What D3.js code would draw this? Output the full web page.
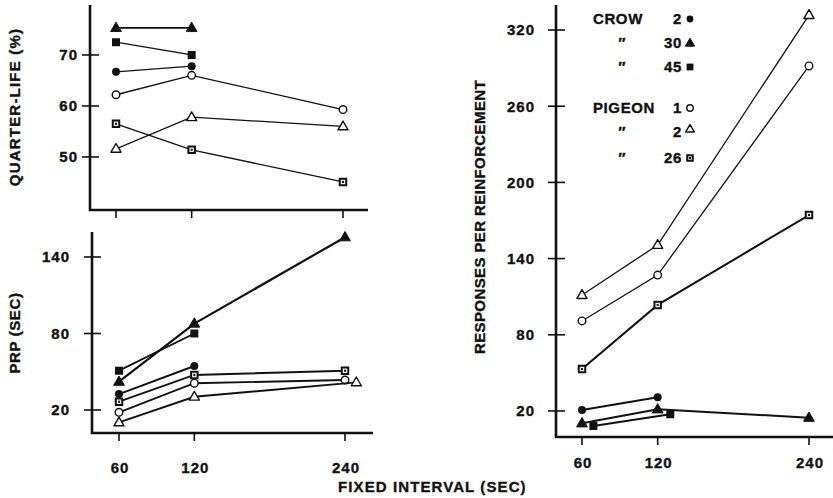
<!DOCTYPE html>
<html><head><meta charset="utf-8">
<script src="https://cdn.jsdelivr.net/npm/d3@7"></script>
<style>
html,body{margin:0;padding:0;background:#fff;}
svg text{font-family:"Liberation Sans",Arial,Helvetica,sans-serif;font-weight:bold;fill:#111;stroke:#111;stroke-width:0.35px;}
</style></head>
<body>
<svg id="c" width="833" height="498"></svg>
<script>
// ---- DATA ----
const intervals = [60, 120, 240];
const xTickValues = [60, 120, 240];

// Quarter-life (%)
const qlTicks = [50, 60, 70];
const qlCrow2    = [66.7, 67.8, null];
const qlCrow30   = [75.3, 75.3, null];
const qlCrow45   = [72.5, 70.0, null];
const qlPigeon1  = [62.2, 66.0, 59.3];
const qlPigeon2  = [51.6, 57.8, 56.0];
const qlPigeon26 = [56.5, 51.4, 45.1];

// PRP (sec)
const prpTicks = [20, 80, 140];
const prpCrow2    = [32.5, 54.5, null];
const prpCrow30   = [42.2, 87.8, 155.5];
const prpCrow45   = [50.8, 80.0, null];
const prpPigeon1  = [18.2, 41.0, 43.5];
const prpPigeon2  = [10.3, 30.4, 41.7];
const prpPigeon2X = [60, 120, 249];
const prpPigeon26 = [26.5, 47.5, 50.8];

// Responses per reinforcement
const rpTicks = [20, 80, 140, 200, 260, 320];
const rpCrow2    = [20.8, 30.8, null];
const rpCrow30   = [10.3, 21.3, 14.7];
const rpCrow45   = [8.2, 17.4, null];
const rpCrow45X  = [69, 130, 240];
const rpPigeon1  = [90.9, 127.0, 291.7];
const rpPigeon2  = [111.3, 150.7, 331.8];
const rpPigeon26 = [53.0, 103.5, 174.3];

const subjects = ["crow2","crow30","crow45","pigeon1","pigeon2","pigeon26"];
const legendSpecies = ["CROW", "\u2033", "\u2033", "PIGEON", "\u2033", "\u2033"];
const legendNumbers = ["2", "30", "45", "1", "2", "26"];

// ---- DRAW ----
const svg = d3.select("#c");

function marker(g, type, x, y, s) {
  s = s || 1;
  if (type === "crow2") {
    g.append("circle").attr("cx", x).attr("cy", y).attr("r", 4 * s).attr("fill", "#111");
  } else if (type === "pigeon1") {
    g.append("circle").attr("cx", x).attr("cy", y).attr("r", 3.8 * s).attr("fill", "#fff").attr("stroke", "#111").attr("stroke-width", 1.4);
  } else if (type === "crow30" || type === "pigeon2") {
    const filled = type === "crow30";
    g.append("path").attr("transform", `translate(${x},${y + 0.5})`)
      .attr("d", d3.symbol().type(d3.symbolTriangle).size((filled ? 50 : 44) * s * s)())
      .attr("fill", filled ? "#111" : "#fff").attr("stroke", "#111").attr("stroke-width", filled ? 1 : 1.4)
      .attr("stroke-linejoin", "round");
  } else if (type === "crow45") {
    g.append("path").attr("transform", `translate(${x},${y})`)
      .attr("d", d3.symbol().type(d3.symbolSquare).size(64 * s * s)()).attr("fill", "#111");
  } else if (type === "pigeon26") {
    g.append("path").attr("transform", `translate(${x},${y})`)
      .attr("d", d3.symbol().type(d3.symbolSquare).size(42 * s * s)())
      .attr("fill", "#eee").attr("stroke", "#111").attr("stroke-width", 2);
    g.append("rect").attr("x", x - 1).attr("y", y - 1).attr("width", 2).attr("height", 2).attr("fill", "#111");
  }
}

function panel(cfg) {
  const g = svg.append("g");
  const x = d3.scaleLinear().domain([60, 240]).range(cfg.xr);
  const y = d3.scaleLinear().domain(cfg.yd).range(cfg.yr);
  // axes
  g.append("line").attr("x1", cfg.ax).attr("x2", cfg.ax).attr("y1", cfg.yr[1]).attr("y2", cfg.yr[0] + 1)
    .attr("stroke", "#111").attr("stroke-width", 2.6);
  g.append("line").attr("x1", cfg.ax - 1).attr("x2", cfg.xEnd).attr("y1", cfg.yr[0]).attr("y2", cfg.yr[0])
    .attr("stroke", "#111").attr("stroke-width", 2.6);
  // y ticks
  cfg.yTicks.forEach(t => {
    g.append("line").attr("x1", cfg.ax - 8).attr("x2", cfg.ax + 9).attr("y1", y(t)).attr("y2", y(t))
      .attr("stroke", "#111").attr("stroke-width", 1.6);
    g.append("text").attr("x", cfg.ax - cfg.labOff).attr("y", y(t)).attr("dy", "0.36em")
      .attr("text-anchor", "end").attr("font-size", 15).attr("letter-spacing", 1).text(t);
  });
  // x ticks
  xTickValues.forEach(t => {
    g.append("line").attr("x1", x(t)).attr("x2", x(t)).attr("y1", cfg.yr[0]).attr("y2", cfg.yr[0] + 8)
      .attr("stroke", "#111").attr("stroke-width", 1.6);
    if (cfg.xLabY) g.append("text").attr("x", x(t) + 1).attr("y", cfg.xLabY).attr("dy", "0.36em")
      .attr("text-anchor", "middle").attr("font-size", 15).attr("letter-spacing", 1).text(t);
  });
  // y title
  g.append("text").attr("transform", `translate(${cfg.titleX},${cfg.titleY}) rotate(-90)`)
    .attr("text-anchor", "middle").attr("dy", "0.36em").attr("font-size", 15)
    .attr("letter-spacing", cfg.titleLs).text(cfg.title);
  // series
  cfg.series.forEach(s => {
    const pts = s.vals.map((v, i) => ({ x: (s.xs || intervals)[i], y: v })).filter(p => p.y != null);
    g.append("path").attr("d", d3.line().x(p => x(p.x)).y(p => y(p.y))(pts))
      .attr("fill", "none").attr("stroke", "#111").attr("stroke-width", s.w || cfg.lw);
    pts.forEach(p => marker(g, s.type, x(p.x), y(p.y)));
  });
  return { x, y };
}

panel({
  xr: [116, 343], yd: [39.6, 79.8], yr: [210, 5], ax: 90, xEnd: 368, labOff: 12,
  yTicks: qlTicks, xLabY: null, titleX: 15, titleY: 107, title: "QUARTER-LIFE (%)", titleLs: 1.2, lw: 1.3,
  series: [
    { type: "crow30", vals: qlCrow30, w: 1.8 },
    { type: "crow45", vals: qlCrow45 },
    { type: "crow2", vals: qlCrow2 },
    { type: "pigeon1", vals: qlPigeon1 },
    { type: "pigeon2", vals: qlPigeon2 },
    { type: "pigeon26", vals: qlPigeon26 }
  ]
});

panel({
  xr: [119, 345], yd: [1.96, 159.6], yr: [433, 232], ax: 92, xEnd: 373, labOff: 22,
  yTicks: prpTicks, xLabY: 468, titleX: 15, titleY: 333, title: "PRP (SEC)", titleLs: 0.6, lw: 1.9,
  series: [
    { type: "crow30", vals: prpCrow30, w: 2.2 },
    { type: "crow45", vals: prpCrow45 },
    { type: "crow2", vals: prpCrow2 },
    { type: "pigeon26", vals: prpPigeon26 },
    { type: "pigeon1", vals: prpPigeon1 },
    { type: "pigeon2", vals: prpPigeon2, xs: prpPigeon2X }
  ]
});

panel({
  xr: [582, 809], yd: [-0.5, 339.7], yr: [437, 5], ax: 556, xEnd: 833, labOff: 21,
  yTicks: rpTicks, xLabY: 463, titleX: 480, titleY: 217, title: "RESPONSES PER REINFORCEMENT", titleLs: 0.4, lw: 1.3,
  series: [
    { type: "pigeon2", vals: rpPigeon2 },
    { type: "pigeon1", vals: rpPigeon1 },
    { type: "pigeon26", vals: rpPigeon26, w: 2 },
    { type: "crow2", vals: rpCrow2, w: 2 },
    { type: "crow30", vals: rpCrow30, w: 2 },
    { type: "crow45", vals: rpCrow45, xs: rpCrow45X, w: 2 }
  ]
});

// x axis title
svg.append("text").attr("x", 338).attr("y", 487).attr("dy", "0.36em").attr("font-size", 15)
  .attr("letter-spacing", 1.1).text("FIXED INTERVAL (SEC)");

// legend
const legendY = [19, 43, 67, 108, 132, 158];
const lg = svg.append("g");
subjects.forEach((s, i) => {
  const sp = legendSpecies[i];
  if (sp === "\u2033") {
    lg.append("text").attr("x", 621).attr("y", legendY[i]).attr("dy", "0.36em").attr("text-anchor", "middle")
      .attr("font-size", 15).attr("font-style", "italic").text(sp);
  } else {
    lg.append("text").attr("x", 593).attr("y", legendY[i]).attr("dy", "0.36em").attr("font-size", 15)
      .attr("letter-spacing", 0.6).text(sp);
  }
  lg.append("text").attr("x", 682).attr("y", legendY[i]).attr("dy", "0.36em").attr("text-anchor", "end")
    .attr("font-size", 15).attr("letter-spacing", 0.6).text(legendNumbers[i]);
  marker(lg, s, 690, legendY[i] - (s === "pigeon2" ? 3 : 0), 0.85);
});
</script>
</body></html>
